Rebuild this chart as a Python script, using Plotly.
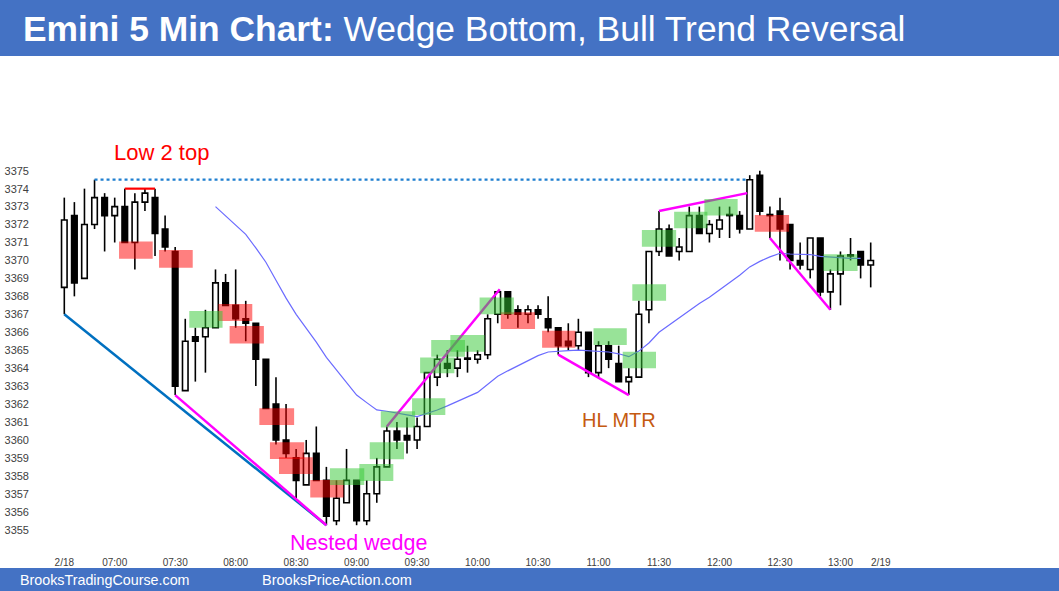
import plotly.graph_objects as go

# ---------------- data ----------------
opens = [3368.5, 3372.5, 3369.0, 3372.0, 3373.5, 3372.5, 3373.0, 3371.0, 3373.25, 3373.5,
         3371.75, 3370.5, 3362.75, 3365.75, 3365.75, 3366.25, 3368.75, 3367.5, 3366.75, 3366.5,
         3364.5, 3362.0, 3360.0, 3359.0, 3357.5, 3359.25, 3357.75, 3355.5, 3356.5, 3357.75,
         3355.5, 3357.0, 3358.5, 3360.5, 3360.25, 3360.0, 3360.75, 3363.5, 3364.25, 3364.0,
         3364.5, 3364.5, 3364.75, 3367.0, 3368.25, 3367.25, 3367.0, 3367.25, 3366.75, 3366.25,
         3365.5, 3365.25, 3366.0, 3363.75, 3365.25, 3364.25, 3363.25, 3363.5, 3367.25, 3370.5,
         3371.75, 3370.5, 3370.5, 3372.5, 3371.5, 3371.75, 3372.5, 3372.5, 3371.75, 3374.75,
         3372.5, 3372.75, 3372.0, 3370.0, 3369.5, 3371.25, 3368.25, 3369.25, 3370.25, 3370.5,
         3369.75]
highs = [3373.5, 3373.25, 3374.0, 3374.5, 3373.75, 3373.5, 3374.0, 3373.75, 3374.0, 3374.0,
         3372.5, 3370.75, 3366.75, 3366.25, 3367.25, 3369.5, 3369.25, 3369.5, 3367.75, 3366.5,
         3364.5, 3363.5, 3362.0, 3359.5, 3360.0, 3360.75, 3358.5, 3357.75, 3359.5, 3357.75,
         3357.75, 3359.0, 3360.75, 3361.0, 3361.25, 3361.25, 3363.75, 3364.75, 3365.0, 3365.0,
         3365.25, 3365.0, 3367.0, 3368.25, 3368.25, 3367.5, 3367.5, 3367.5, 3368.0, 3366.25,
         3366.5, 3366.75, 3366.0, 3365.5, 3365.5, 3365.25, 3364.0, 3367.75, 3370.5, 3372.75,
         3372.0, 3371.25, 3373.0, 3373.0, 3372.25, 3373.0, 3373.0, 3372.75, 3374.75, 3375.0,
         3373.0, 3373.5, 3372.0, 3371.0, 3371.25, 3371.25, 3369.5, 3370.5, 3371.25, 3370.5,
         3371.0]
lows = [3367.0, 3368.0, 3369.0, 3371.75, 3370.5, 3371.0, 3371.0, 3369.5, 3372.75, 3370.25,
        3370.5, 3362.5, 3362.75, 3363.25, 3363.75, 3366.25, 3367.5, 3366.25, 3365.5, 3363.0,
        3361.75, 3359.75, 3359.0, 3356.75, 3357.5, 3357.75, 3355.25, 3355.25, 3356.5, 3355.25,
        3355.25, 3356.5, 3358.5, 3359.5, 3359.25, 3359.5, 3360.75, 3363.0, 3363.5, 3363.5,
        3363.75, 3364.25, 3364.5, 3366.5, 3366.75, 3366.25, 3366.5, 3366.75, 3366.0, 3364.75,
        3365.0, 3365.0, 3363.5, 3363.5, 3364.0, 3363.25, 3362.5, 3363.5, 3366.5, 3370.25,
        3370.25, 3370.0, 3370.5, 3371.5, 3371.0, 3371.25, 3371.25, 3371.5, 3371.75, 3372.5,
        3371.25, 3370.0, 3369.5, 3369.5, 3369.0, 3368.0, 3367.25, 3367.5, 3370.0, 3369.0,
        3368.5]
closes = [3372.25, 3368.75, 3372.0, 3373.5, 3372.5, 3373.0, 3371.0, 3373.25, 3373.75, 3371.5,
          3370.75, 3363.0, 3365.5, 3365.5, 3366.25, 3368.75, 3367.5, 3366.75, 3366.5, 3364.5,
          3361.75, 3360.0, 3359.25, 3357.75, 3359.25, 3357.75, 3355.75, 3356.75, 3357.75, 3355.5,
          3357.0, 3358.5, 3360.5, 3360.0, 3360.0, 3360.75, 3363.75, 3364.5, 3364.0, 3364.5,
          3364.5, 3364.75, 3366.75, 3368.25, 3367.0, 3367.0, 3367.25, 3367.0, 3366.25, 3365.25,
          3365.25, 3366.0, 3363.75, 3365.25, 3364.5, 3363.25, 3363.5, 3367.0, 3370.5, 3371.75,
          3370.25, 3370.75, 3372.5, 3371.5, 3372.0, 3372.25, 3372.5, 3371.75, 3374.5, 3372.75,
          3372.5, 3371.75, 3370.0, 3369.75, 3371.25, 3368.25, 3369.25, 3370.25, 3370.25, 3369.75,
          3370.0]

ema_start = 15
ema = [3373.0, 3372.5, 3371.95, 3371.45, 3370.7, 3369.9, 3368.9, 3367.9, 3367.0, 3366.25,
       3365.45, 3364.6, 3363.9, 3363.14, 3362.5, 3362.08, 3361.67, 3361.6, 3361.52, 3361.4,
       3361.3, 3361.48, 3361.67, 3361.9, 3362.13, 3362.4, 3362.65, 3363.1, 3363.55, 3363.85,
       3364.12, 3364.42, 3364.7, 3364.9, 3364.95, 3364.98, 3365.0, 3364.98, 3364.95, 3364.9,
       3364.8, 3364.64, 3364.95, 3365.4, 3366.0, 3366.4, 3366.8, 3367.25, 3367.6, 3367.95,
       3368.35, 3368.75, 3369.18, 3369.64, 3369.95, 3370.2, 3370.4, 3370.36, 3370.35, 3370.33,
       3370.23, 3370.18, 3370.13, 3370.12, 3370.12]

tick_bars = [0, 5, 11, 17, 23, 29, 35, 41, 47, 53, 59, 65, 71, 77, 81]
tick_labels = ["2/18", "07:00", "07:30", "08:00", "08:30", "09:00", "09:30", "10:00",
               "10:30", "11:00", "11:30", "12:00", "12:30", "13:00", "2/19"]
price_ticks = list(range(3355, 3376))

# signal-bar boxes (bar index start/end, price low/high)
red_x0 = [5.43, 9.4, 15.29, 16.4, 19.35, 20.4, 21.3, 24.4, 43.3, 47.4, 68.5]
red_x1 = [8.77, 12.74, 18.65, 19.8, 22.8, 23.8, 24.65, 27.7, 46.7, 50.7, 71.9]
red_lo = [3370.1, 3369.6, 3366.63, 3365.38, 3360.83, 3358.94, 3358.1, 3356.8, 3366.18, 3365.14, 3371.6]
red_hi = [3371.05, 3370.58, 3367.57, 3366.35, 3361.76, 3359.87, 3359.03, 3357.77, 3367.11, 3366.09, 3372.53]

green_x0 = [12.4, 26.35, 29.27, 30.3, 31.4, 34.5, 35.3, 36.4, 38.3, 41.2, 52.5, 55.4, 56.35, 57.3, 60.5, 63.5, 75.3]
green_x1 = [15.7, 29.76, 32.64, 33.7, 34.8, 37.8, 38.7, 39.75, 41.7, 44.6, 55.8, 58.7, 59.7, 60.7, 63.8, 66.8, 78.7]
green_lo = [3366.25, 3357.49, 3357.71, 3358.92, 3360.7, 3361.39, 3363.71, 3364.64, 3364.92, 3367.0,
            3365.29, 3363.99, 3367.76, 3370.77, 3371.79, 3372.5, 3369.41]
green_hi = [3367.18, 3358.42, 3358.66, 3359.87, 3361.6, 3362.32, 3364.6, 3365.57, 3365.85, 3367.93,
            3366.22, 3364.92, 3368.68, 3371.7, 3372.72, 3373.42, 3370.34]

# trend lines: (bar0, price0, bar1, price1)
wedge_blue = (0, 3367.0, 26, 3355.25)
magenta_lines = [(11, 3362.5, 26, 3355.25),
                 (32, 3360.75, 43.2, 3368.4),
                 (49, 3364.75, 56, 3362.5),
                 (59, 3372.75, 67.75, 3373.75),
                 (70, 3371.25, 76, 3367.25)]
low2_line = (6, 3374.0, 9, 3374.0)
high_dotted = (3, 3374.5, 67.8, 3374.5)

# ---------------- layout geometry ----------------
W, H = 1059, 591
ML, MR, MT, MB = 30, 19, 60, 39
PW, PH = W - ML - MR, H - MT - MB
BAR_PX = 10.08
X0_PX = 64.3
PPT = 17.95          # px per point
Y3375 = 170.7

x_lo = -(X0_PX - ML) / BAR_PX
x_hi = x_lo + PW / BAR_PX
y_hi = 3375 + (Y3375 - MT) / PPT
y_lo = y_hi - PH / PPT


def xp(px):
    return (px - ML) / PW


def yp(py):
    return 1 - (py - MT) / PH


n = len(opens)
idx = list(range(n))

fig = go.Figure()

# wicks (drawn outside the body so white bodies stay clean)
wx, wy = [], []
for i in idx:
    top = max(opens[i], closes[i])
    bot = min(opens[i], closes[i])
    if highs[i] > top:
        wx += [i, i, None]
        wy += [top, highs[i], None]
    if lows[i] < bot:
        wx += [i, i, None]
        wy += [lows[i], bot, None]
fig.add_trace(go.Scatter(x=wx, y=wy, mode="lines", line=dict(color="black", width=1.6),
                         hoverinfo="skip", showlegend=False))

# bodies
base = [min(o, c) for o, c in zip(opens, closes)]
height = [max(abs(c - o), 0.06) for o, c in zip(opens, closes)]
colors = ["white" if c > o else "black" for o, c in zip(opens, closes)]
fig.add_trace(go.Bar(x=idx, y=height, base=base, width=0.55,
                     marker=dict(color=colors, line=dict(color="black", width=1.6)),
                     showlegend=False, hoverinfo="skip"))

# EMA
fig.add_trace(go.Scatter(x=list(range(ema_start, ema_start + len(ema))), y=ema, mode="lines",
                         line=dict(color="#6b6bff", width=1.2), showlegend=False, hoverinfo="skip"))

# trend lines
fig.add_trace(go.Scatter(x=[wedge_blue[0], wedge_blue[2]], y=[wedge_blue[1], wedge_blue[3]],
                         mode="lines", line=dict(color="#0070c0", width=2.5), showlegend=False))
for (a, pa, b, pb) in magenta_lines:
    fig.add_trace(go.Scatter(x=[a, b], y=[pa, pb], mode="lines",
                             line=dict(color="#ff00ff", width=2.5), showlegend=False))
fig.add_trace(go.Scatter(x=[low2_line[0], low2_line[2]], y=[low2_line[1], low2_line[3]],
                         mode="lines", line=dict(color="#ff0000", width=2.2), showlegend=False))
fig.add_trace(go.Scatter(x=[high_dotted[0], high_dotted[2]], y=[high_dotted[1], high_dotted[3]],
                         mode="lines", line=dict(color="#1f7fd0", width=2.2, dash="dot"),
                         showlegend=False))

shapes = []
for a, b, lo, hi in zip(red_x0, red_x1, red_lo, red_hi):
    shapes.append(dict(type="rect", xref="x", yref="y", x0=a, x1=b, y0=lo, y1=hi,
                       fillcolor="rgba(255,0,0,0.5)", line=dict(width=0), layer="above"))
for a, b, lo, hi in zip(green_x0, green_x1, green_lo, green_hi):
    shapes.append(dict(type="rect", xref="x", yref="y", x0=a, x1=b, y0=lo, y1=hi,
                       fillcolor="rgba(50,200,50,0.5)", line=dict(width=0), layer="above"))

# header and footer bands
shapes.append(dict(type="rect", xref="paper", yref="paper", x0=xp(0), x1=xp(W), y0=yp(56), y1=yp(0),
                   fillcolor="#4472c4", line=dict(width=0), layer="above"))
shapes.append(dict(type="rect", xref="paper", yref="paper", x0=xp(0), x1=xp(W), y0=yp(H), y1=yp(568),
                   fillcolor="#4472c4", line=dict(width=0), layer="above"))

annotations = [
    dict(text="<b>Emini 5 Min Chart:</b> Wedge Bottom, Bull Trend Reversal", xref="paper", yref="paper",
         x=xp(21), y=yp(29), xanchor="left", yanchor="middle", showarrow=False,
         font=dict(family="Liberation Sans, Arial", size=35.4, color="white")),
    dict(text="BrooksTradingCourse.com", xref="paper", yref="paper", x=xp(18), y=yp(580),
         xanchor="left", yanchor="middle", showarrow=False,
         font=dict(family="Liberation Sans, Arial", size=14.3, color="white")),
    dict(text="BrooksPriceAction.com", xref="paper", yref="paper", x=xp(260), y=yp(580),
         xanchor="left", yanchor="middle", showarrow=False,
         font=dict(family="Liberation Sans, Arial", size=14.5, color="white")),
    dict(text="Low 2 top", x=9.69, y=3375.99, xref="x", yref="y", showarrow=False,
         font=dict(family="Liberation Sans, Arial", size=22, color="#ff0000")),
    dict(text="Nested wedge", x=29.19, y=3354.25, xref="x", yref="y", showarrow=False,
         font=dict(family="Liberation Sans, Arial", size=21.5, color="#ff00ff")),
    dict(text="HL MTR", x=55.03, y=3361.11, xref="x", yref="y", showarrow=False,
         font=dict(family="Liberation Sans, Arial", size=20, color="#c55a11")),
]

fig.update_layout(
    width=W, height=H, margin=dict(l=ML, r=MR, t=MT, b=MB, autoexpand=False),
    paper_bgcolor="white", plot_bgcolor="white",
    shapes=shapes, annotations=annotations, showlegend=False, barmode="overlay",
    xaxis=dict(range=[x_lo, x_hi], tickvals=tick_bars, ticktext=tick_labels, automargin=False,
               showgrid=False, zeroline=False, showline=False, ticks="", ticklabelstandoff=3,
               tickfont=dict(family="Liberation Sans, Arial", size=10, color="#404040")),
    yaxis=dict(range=[y_lo, y_hi], tickvals=price_ticks, ticktext=[str(p) for p in price_ticks],
               automargin=False, showgrid=False, zeroline=False, showline=False, ticks="",
               tickfont=dict(family="Liberation Sans, Arial", size=11, color="#404040")),
)

fig.write_html("out.html")
